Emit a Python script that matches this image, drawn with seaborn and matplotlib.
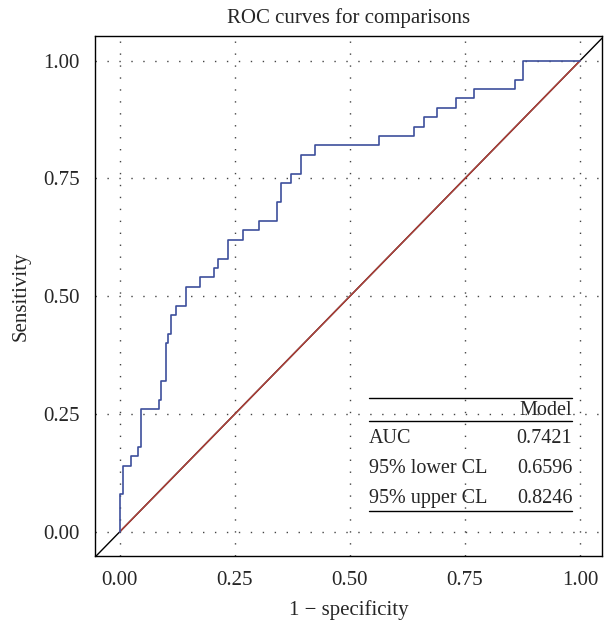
"""
plot.py
-------
ROC curve with AUC summary table, redrawn with seaborn.
"""

import matplotlib
matplotlib.use("Agg")
import matplotlib.pyplot as plt
import pandas as pd
import seaborn as sns

# ── Data ──────────────────────────────────────────────────────────────────────
roc_fpr = [0.000, 0.000, 0.007, 0.024, 0.040, 0.046, 0.085, 0.090, 0.100,
           0.106, 0.112, 0.122, 0.145, 0.175, 0.205, 0.214, 0.236, 0.267,
           0.302, 0.342, 0.350, 0.372, 0.394, 0.424, 0.564, 0.640, 0.662,
           0.690, 0.730, 0.770, 0.859, 0.875, 1.000]
roc_tpr = [0.00, 0.08, 0.14, 0.16, 0.18, 0.26, 0.28, 0.32, 0.40,
           0.42, 0.46, 0.48, 0.52, 0.54, 0.56, 0.58, 0.62, 0.64,
           0.66, 0.70, 0.74, 0.76, 0.80, 0.82, 0.84, 0.86, 0.88,
           0.90, 0.92, 0.94, 0.96, 1.00, 1.00]

ref_x = [0.0, 1.0]
ref_y = [0.0, 1.0]

tick_vals   = [0.00, 0.25, 0.50, 0.75, 1.00]
tick_labels = ["0.00", "0.25", "0.50", "0.75", "1.00"]

stat_names  = ["AUC", "95% lower CL", "95% upper CL"]
stat_values = ["0.7421", "0.6596", "0.8246"]
stat_header = "Model"

TITLE   = "ROC curves for comparisons"
X_LABEL = "1 \u2212 specificity"
Y_LABEL = "Sensitivity"

BLUE = "#3d4f9c"
RED  = "#b0413a"

# ── Style ─────────────────────────────────────────────────────────────────────
sns.set_style("white")
plt.rcParams["font.family"] = ["Liberation Serif", "DejaVu Serif"]

fig = plt.figure(figsize=(6.04, 6.26), dpi=100)
ax  = fig.add_axes([0.157, 0.112, 0.84, 0.831])

# dotted grid at the major ticks
for v in tick_vals:
    ax.axvline(v, color="#444444", lw=1.0, ls=(0, (1, 7.6)), zorder=0)
    ax.axhline(v, color="#444444", lw=1.0, ls=(0, (1, 7.6)), zorder=0)

# full-width black diagonal, red chance line on top
ax.axline((0, 0), (1, 1), color="black", lw=1.0, zorder=1)
sns.lineplot(x=ref_x, y=ref_y, color=RED, lw=1.1, ax=ax, zorder=2)

roc = pd.DataFrame({"fpr": roc_fpr, "tpr": roc_tpr})
sns.lineplot(data=roc, x="fpr", y="tpr", estimator=None, sort=False,
             drawstyle="steps-post", color=BLUE, lw=1.2, ax=ax, zorder=3)

ax.set_xlim(-0.054, 1.048)
ax.set_ylim(-0.051, 1.053)
ax.set_xticks(tick_vals)
ax.set_xticklabels(tick_labels)
ax.set_yticks(tick_vals)
ax.set_yticklabels(tick_labels)
ax.tick_params(axis="both", direction="out", length=6, width=1,
               color="black", labelsize=15, pad=5)

for s in ax.spines.values():
    s.set_color("black")
    s.set_linewidth(1.0)

ax.set_title(TITLE, fontsize=15, pad=9)
ax.set_xlabel(X_LABEL, fontsize=15, labelpad=7)
ax.set_ylabel(Y_LABEL, fontsize=15, labelpad=9)

# ── AUC table ─────────────────────────────────────────────────────────────────
tx0, tx1 = 0.542, 0.983
ax.plot([tx0, tx1], [0.2845, 0.2845], color="black", lw=1.0, zorder=4)
ax.text(tx1, 0.257, stat_header, ha="right", va="center", fontsize=14.5)
ax.plot([tx0, tx1], [0.2357, 0.2357], color="black", lw=1.0, zorder=4)
row_y = [0.199, 0.135, 0.071]
for name, val, y in zip(stat_names, stat_values, row_y):
    ax.text(tx0, y, name, ha="left", va="center", fontsize=14.5)
    ax.text(tx1, y, val, ha="right", va="center", fontsize=14.5)
ax.plot([tx0, tx1], [0.0446, 0.0446], color="black", lw=1.0, zorder=4)

fig.savefig("out.png", dpi=100)
plt.close(fig)
